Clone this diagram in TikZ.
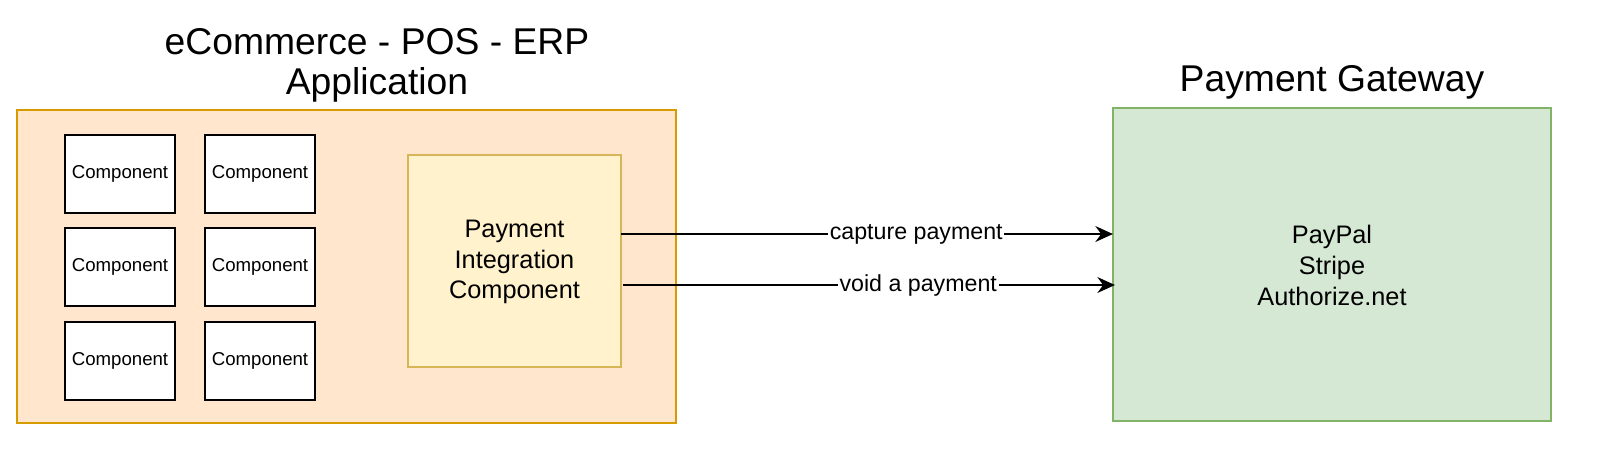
\documentclass[tikz,border=0pt]{standalone}
\usepackage{fontspec}
\setmainfont{Liberation Sans}
\usetikzlibrary{arrows.meta}
\begin{document}
\begin{tikzpicture}[x=0.01cm,y=-0.01cm,
  comp/.style={draw=black,fill=white,line width=0.3pt,minimum width=110\pgflinewidth,font=\fontsize{5.3pt}{6.4pt}\selectfont},
  ttl/.style={font=\fontsize{10.6pt}{11.4pt}\selectfont,align=center},
  lbl/.style={fill=white,inner sep=0.5pt,font=\fontsize{6.6pt}{7.5pt}\selectfont},
  arr/.style={line width=0.6pt,-{Stealth[length=5pt,width=4.5pt]}}]
\useasboundingbox (0,0) rectangle (1600,450);
\node[ttl] (t1) at (377,65) {eCommerce - POS - ERP\\Application};
\node[ttl] (t2) at (1332,82) {Payment Gateway};
\draw[fill={rgb,255:red,255;green,230;blue,204},draw={rgb,255:red,215;green,155;blue,0},line width=0.6pt] (17,110) rectangle (676,423);
\foreach \c/\x in {1/65,2/205}{
 \foreach \r/\y in {1/135,2/228,3/322}{
  \draw[fill=white,line width=0.3pt] (\x,\y) rectangle ++(110,78);
  \node[font=\fontsize{5.3pt}{6.4pt}\selectfont] (c\c\r) at (\x+55,\y+39) {Component};
 }}
\draw[fill={rgb,255:red,255;green,242;blue,204},draw={rgb,255:red,214;green,182;blue,86},line width=0.6pt] (408,155) rectangle (621,367);
\node[align=center,font=\fontsize{7.2pt}{8.6pt}\selectfont] (pic) at (514.5,262) {Payment\\Integration\\Component};
\draw[fill={rgb,255:red,213;green,232;blue,212},draw={rgb,255:red,130;green,179;blue,102},line width=0.6pt] (1113,108) rectangle (1551,421);
\node[align=center,font=\fontsize{7.2pt}{8.8pt}\selectfont] (pg) at (1332,265) {PayPal\\Stripe\\Authorize.net};
\coordinate (a1) at (621,234); \coordinate (b1) at (1113,234);
\coordinate (a2) at (623,285); \coordinate (b2) at (1115,285);
\draw[arr] (a1) -- node[lbl,pos=0.6] {capture payment} (b1);
\draw[arr] (a2) -- node[lbl,pos=0.6] {void a payment} (b2);
\end{tikzpicture}
\end{document}
